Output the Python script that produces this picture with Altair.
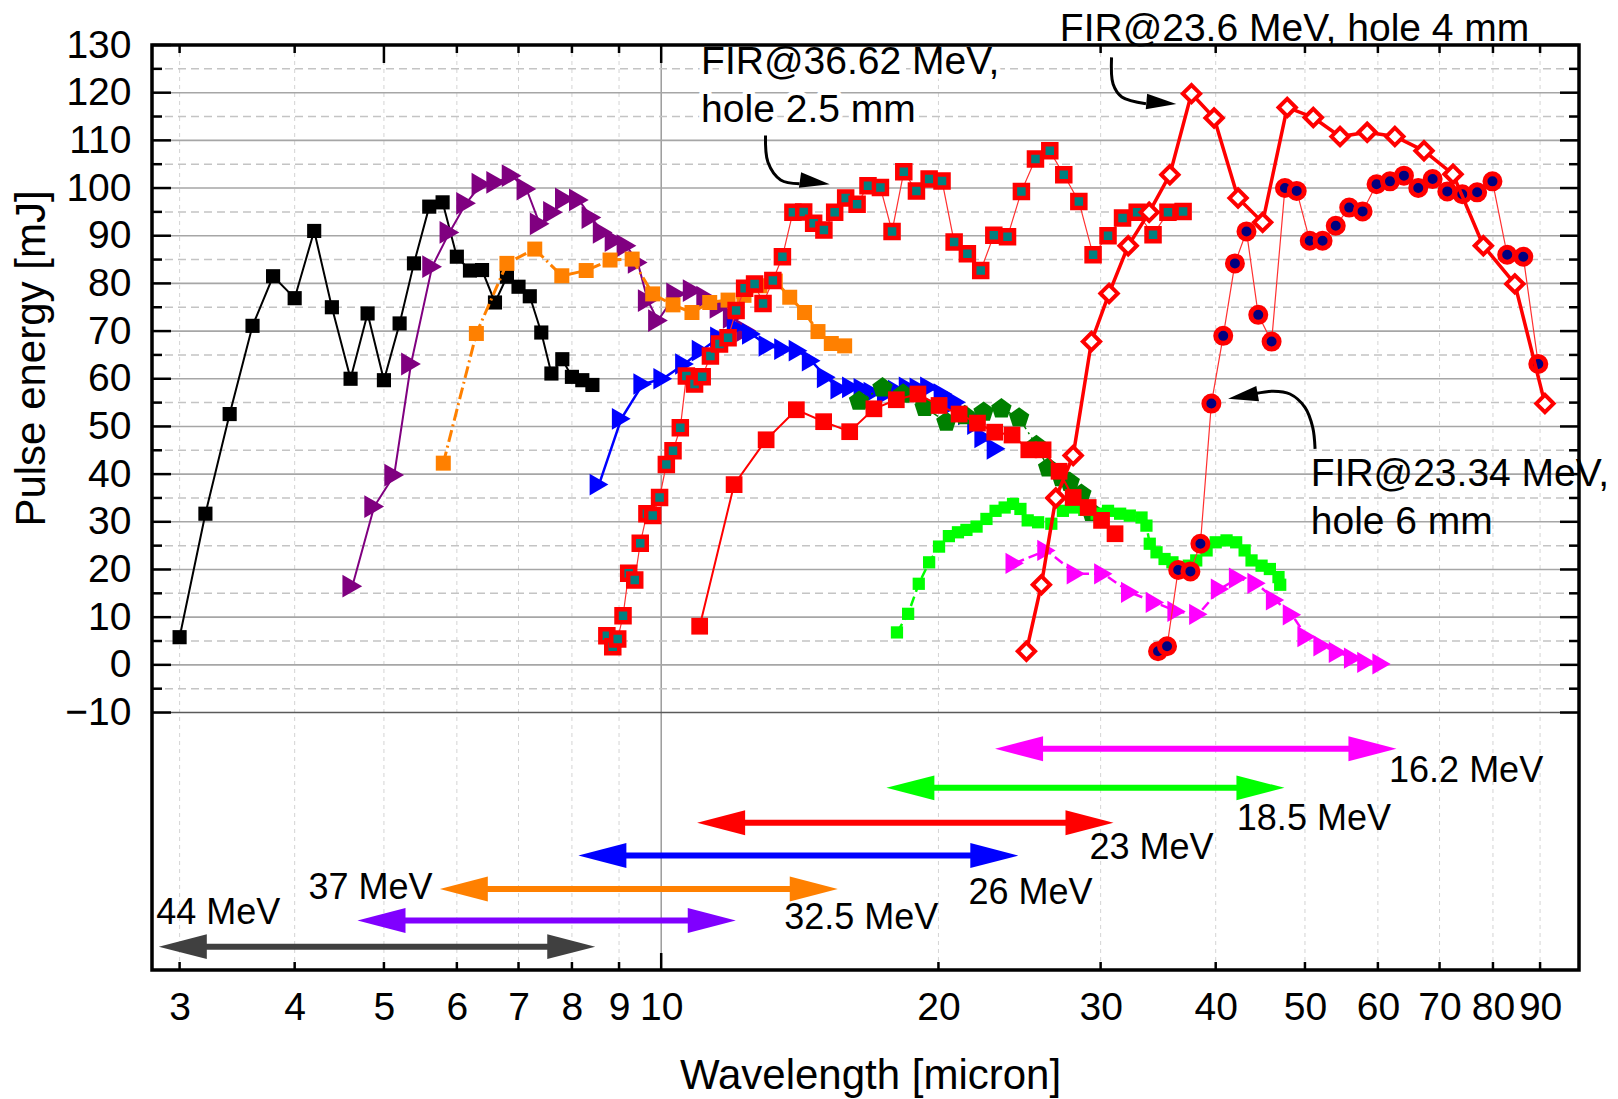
import altair as alt
import pandas as pd

W, H = 1427, 925
FONT = "Liberation Sans"

# ---------------- measured spectra (wavelength in micron, pulse energy in mJ) ----------------
x_44 = [3.0, 3.2, 3.4, 3.6, 3.79, 4.0, 4.2, 4.39, 4.6, 4.8, 5.0, 5.2, 5.39, 5.6, 5.79, 6.0,
        6.2, 6.39, 6.6, 6.8, 7.0, 7.2, 7.41, 7.6, 7.81, 8.0, 8.21, 8.42]
y_44 = [5.8, 31.7, 52.6, 71.1, 81.5, 76.9, 91.0, 75.0, 60.0, 73.7, 59.7, 71.6, 84.2, 96.1, 97.0, 85.6,
        82.7, 82.8, 76.0, 81.4, 79.3, 77.3, 69.7, 61.1, 64.1, 60.4, 59.7, 58.7]

x_37 = [4.62, 4.88, 5.13, 5.35, 5.64, 5.89, 6.14, 6.38, 6.62, 6.88, 7.14, 7.38, 7.63, 7.86, 8.14,
        8.40, 8.64, 8.90, 9.17, 9.43, 9.67, 9.92, 10.38, 10.82, 11.19, 11.57, 11.96, 12.37]
y_37 = [16.5, 33.2, 39.8, 63.1, 83.5, 90.7, 96.8, 100.8, 101.2, 102.6, 99.8, 92.5, 94.9, 97.7, 97.5,
        93.8, 90.7, 89.0, 87.9, 84.4, 76.4, 72.2, 77.8, 78.5, 77.1, 75.0, 72.9, 70.1]

x_325 = [5.80, 6.30, 6.80, 7.29, 7.80, 8.29, 8.80, 9.30, 9.79, 10.30, 10.80, 11.29, 11.82, 12.30,
         12.80, 13.30, 13.79, 14.31, 14.80, 15.30, 15.82]
y_325 = [42.3, 69.5, 84.2, 87.2, 81.6, 82.7, 84.9, 85.1, 77.8, 75.5, 73.9, 76.0, 76.5, 77.5,
         79.5, 80.5, 77.1, 73.9, 69.9, 67.4, 66.9]

x_26 = [8.56, 9.05, 9.55, 10.04, 10.6, 11.05, 11.57, 12.06, 12.53, 13.06, 13.58, 14.08, 14.55, 15.11,
        15.63, 16.09, 16.56, 16.98, 17.56, 18.05, 18.54, 19.05, 19.56, 20.23, 20.92, 21.5, 22.0, 22.4, 23.1]
y_26 = [37.8, 51.6, 58.9, 60.0, 63.1, 65.9, 68.7, 70.8, 69.4, 66.9, 66.2, 65.9, 63.8, 60.3,
        57.9, 58.2, 57.9, 57.1, 56.8, 57.5, 58.2, 58.0, 58.2, 56.8, 55.1, 52.5, 50.5, 47.7, 45.3]

x_fir36 = [8.73, 8.86, 8.97, 9.09, 9.22, 9.36, 9.49, 9.65, 9.79, 9.96, 10.13, 10.30, 10.49, 10.65,
           10.87, 11.08, 11.31, 11.57, 11.82, 12.06, 12.32, 12.63, 12.90, 13.22, 13.54, 13.90, 14.28,
           14.64, 15.02, 15.43, 15.86, 16.32, 16.77, 17.30, 17.81, 18.34, 18.93, 19.54, 20.18, 20.80,
           21.50, 22.23, 22.97, 23.77, 24.61, 25.49, 26.42, 27.36, 28.41, 29.44, 30.56, 31.69, 32.87,
           34.20, 35.50, 36.87]
y_fir36 = [6.1, 3.8, 5.4, 10.3, 19.2, 17.8, 25.5, 31.7, 31.3, 35.1, 42.0, 44.9, 49.7, 60.6,
           58.9, 60.4, 64.8, 67.3, 68.6, 74.3, 79.0, 79.9, 75.8, 80.6, 85.6, 94.9, 95.0,
           92.6, 91.2, 94.9, 97.9, 96.6, 100.5, 100.1, 90.9, 103.4, 99.4, 101.9, 101.5, 88.7,
           86.2, 82.7, 90.1, 89.8, 99.3, 106.1, 107.8, 102.8, 97.2, 86.0, 90.0, 93.7, 94.9,
           90.2, 94.9, 95.1]

x_23 = [11.01, 12.0, 13.0, 14.02, 15.01, 16.02, 17.02, 18.0, 19.0, 20.03, 21.06, 22.05, 23.02,
        24.04, 25.07, 25.98, 27.04, 28.01, 29.08, 30.07, 31.1]
y_23 = [8.1, 37.8, 47.2, 53.5, 51.0, 48.9, 53.7, 55.6, 56.8, 54.4, 52.6, 50.7, 48.8,
        48.2, 45.1, 45.1, 40.6, 35.1, 33.0, 30.3, 27.5]

x_dg = [16.4, 17.39, 18.31, 19.32, 20.4, 21.36, 22.39, 23.41, 24.47, 25.55, 26.31, 27.2, 27.77, 28.59, 29.32]
y_dg = [55.3, 58.1, 56.8, 54.0, 50.9, 52.3, 53.0, 53.7, 51.8, 46.0, 41.3, 39.3, 38.3, 35.8, 32.0]

x_185 = [18.03, 18.54, 19.04, 19.54, 20.03, 20.53, 21.0, 21.45, 22.0, 22.55, 23.07, 23.6, 24.1, 24.55,
         25.0, 25.66, 26.52, 27.3, 28.0, 28.8, 29.7, 30.56, 31.5, 32.27, 33.23, 33.64, 33.92, 34.5,
         35.2, 35.9, 36.6, 37.4, 38.1, 39.1, 40.0, 41.1, 42.1, 43.0, 43.75, 44.86, 45.8, 46.8, 47.0]
y_185 = [6.8, 10.7, 17.0, 21.5, 24.8, 27.0, 27.8, 28.3, 29.0, 30.6, 32.3, 33.0, 33.75, 32.7,
         30.3, 29.9, 29.6, 32.3, 33.0, 32.5, 31.7, 32.3, 31.7, 31.3, 30.9, 29.2, 25.4, 23.6,
         22.2, 21.5, 20.5, 20.8, 21.9, 24.0, 25.7, 26.1, 25.7, 24.0, 21.9, 20.8, 20.1, 18.4, 16.8]

x_162 = [24.2, 26.2, 28.2, 30.2, 32.3, 34.36, 36.27, 38.3, 40.43, 42.3, 44.3, 46.4, 48.4, 50.2,
         52.25, 54.3, 56.4, 58.3, 60.55]
y_162 = [21.3, 24.0, 19.1, 19.1, 15.2, 13.1, 11.2, 10.6, 15.9, 18.2, 17.1, 13.6, 10.5, 5.9,
         4.0, 2.6, 1.4, 0.5, 0.2]

x_fir236 = [24.92, 25.87, 26.82, 28.01, 29.32, 30.64, 32.14, 33.87, 35.67, 37.65, 39.84, 42.3, 44.98,
            47.83, 51.05, 54.58, 58.42, 62.6, 67.33, 72.4, 78.1, 84.5, 91.1]
y_fir236 = [2.85, 16.8, 35.0, 43.9, 67.8, 77.9, 87.9, 94.9, 102.8, 119.8, 114.7, 97.9, 92.8,
            116.9, 114.8, 110.8, 111.7, 110.8, 107.8, 102.9, 87.9, 79.9, 54.8]

x_fir2334 = [34.63, 35.42, 36.42, 37.55, 38.5, 39.57, 40.76, 41.97, 43.2, 44.49, 46.0, 47.56, 48.98,
             50.6, 52.25, 54.0, 55.85, 57.75, 59.8, 61.84, 64.04, 66.37, 68.8, 71.37, 74.1, 76.9,
             79.9, 82.9, 86.3, 89.6]
y_fir2334 = [2.85, 3.9, 19.9, 19.6, 25.4, 54.8, 69.0, 84.2, 90.9, 73.4, 67.8, 100.0, 99.4,
             88.95, 88.95, 92.1, 95.9, 95.1, 100.8, 101.4, 102.6, 100.0, 101.9, 99.3, 98.7, 99.1,
             101.4, 86.0, 85.6, 63.1]

# ---------------- tuning ranges of the beam energies ----------------
range_labels = ["44 MeV", "37 MeV", "32.5 MeV", "26 MeV", "23 MeV", "18.5 MeV", "16.2 MeV"]
range_colors = ["#404040", "#8000FF", "#FF8000", "#0000FF", "#FF0000", "#00FF00", "#FF00FF"]
range_lo = [2.848, 4.68, 5.75, 8.13, 10.94, 17.56, 23.04]
range_hi = [8.48, 12.05, 15.55, 24.42, 30.98, 47.5, 62.85]
range_y = [-59.1, -53.6, -47.0, -40.0, -33.1, -25.8, -17.6]
label_x = [2.83, 4.14, 13.6, 21.56, 29.17, 42.17, 61.7]
label_y = [-54.3, -49.1, -55.3, -50.1, -40.7, -34.6, -24.5]

# ---------------- callouts ----------------
note_text = ["FIR@36.62 MeV,", "hole 2.5 mm", "FIR@23.6 MeV, hole 4 mm", "FIR@23.34 MeV,", "hole 6 mm"]
note_x = [11.05, 11.05, 27.09, 50.73, 50.73]
note_y = [123.9, 113.8, 130.9, 37.6, 27.5]
note_halo = [True, True, False, False, False]

curve_id = ["a"] * 4 + ["b"] * 4 + ["c"] * 6
curve_x = [12.98, 13.06, 13.48, 14.13,
           30.83, 30.95, 31.63, 33.6,
           51.28, 50.98, 50.0, 48.16, 46.18, 44.2]
curve_y = [111.0, 105.4, 101.7, 100.9,
           127.4, 121.8, 119.1, 117.7,
           45.3, 49.8, 54.0, 56.8, 57.4, 56.9]
head_x = [15.24, 36.25, 41.26]
head_y = [100.8, 117.6, 55.8]
head_dir = ["right", "right", "left"]
head_angle = [8, 5, 350]

x_ticks = [3, 4, 5, 6, 7, 8, 9, 10, 20, 30, 40, 50, 60, 70, 80, 90]
y_major = list(range(-10, 131, 10))
y_minor = list(range(-5, 126, 10))

xs = alt.Scale(type="log", domain=[2.8, 99.2], nice=False)
ys = alt.Scale(domain=[-64, 130], nice=False, zero=False)

AX_X = alt.Axis(
    values=x_ticks, format="d", grid=False, ticks=False, domain=False,
    labelFont=FONT, labelFontSize=39, labelColor="black", labelPadding=18,
    labelFlush=False, labelOverlap=False, labelBound=False,
    title="Wavelength [micron]", titleFont=FONT, titleFontSize=42,
    titleFontWeight="normal", titleColor="black", titleX=718, titleY=118,
    titleBaseline="alphabetic", titleAlign="center")
AX_Y = alt.Axis(
    values=y_major, grid=False, ticks=False, domain=False,
    labelFont=FONT, labelFontSize=39, labelColor="black", labelPadding=21,
    labelFlush=False, labelOverlap=False, labelBound=False,
    title="Pulse energy [mJ]", titleFont=FONT, titleFontSize=42,
    titleFontWeight="normal", titleColor="black", titleAngle=270,
    titleX=-121, titleY=313, titleBaseline="middle", titleAlign="center")


def X(f="x"):
    return alt.X(f"{f}:Q", scale=xs, axis=AX_X)


def Y(f="y"):
    return alt.Y(f"{f}:Q", scale=ys, axis=AX_Y)


RIGHT_HEAD = "M0,0 L-2,-0.52 L-2,0.52 Z"
LEFT_HEAD = "M0,0 L2,-0.52 L2,0.52 Z"
PENTAGON = "M0,-1 L0.951,-0.309 L0.588,0.809 L-0.588,0.809 L-0.951,-0.309 Z"

layers = []

# ---- grid ----
vgrid = pd.DataFrame({"x": [v for v in x_ticks if v != 10]})
layers.append(
    alt.Chart(vgrid).mark_rule(color="#d4d4d4", strokeWidth=1, strokeDash=[4, 4]).encode(
        x=X(), y=alt.value(0), y2=alt.value(H))
)
layers.append(
    alt.Chart(pd.DataFrame({"x": [10]})).mark_rule(color="#8c8c8c", strokeWidth=1.3).encode(
        x=X(), y=alt.value(0), y2=alt.value(H))
)
layers.append(
    alt.Chart(pd.DataFrame({"y": y_minor})).mark_rule(color="#c4c4c4", strokeWidth=1.5, strokeDash=[8, 5]).encode(
        y=Y(), x=alt.value(0), x2=alt.value(W))
)
hmaj = pd.DataFrame({"y": y_major, "c": ["#5a5a5a" if v == -10 else "#a6a6a6" for v in y_major]})
layers.append(
    alt.Chart(hmaj).mark_rule(strokeWidth=1.6).encode(
        y=Y(), x=alt.value(0), x2=alt.value(W), color=alt.Color("c:N", scale=None))
)


# ---- spectra ----
def series(xv, yv, color, shape, size, line_w, dash=None, fill=None, stroke_w=0, line_color=None):
    d = pd.DataFrame({"x": xv, "y": yv, "i": list(range(len(xv)))})
    lk = dict(color=line_color or color, strokeWidth=line_w)
    if dash:
        lk["strokeDash"] = dash
    line = alt.Chart(d).mark_line(**lk).encode(x=X(), y=Y(), order="i:Q")
    pk = dict(shape=shape, size=size, filled=True, fill=fill or color, opacity=1)
    if stroke_w:
        pk.update(stroke=color, strokeWidth=stroke_w, strokeOpacity=1)
    else:
        pk.update(strokeWidth=0)
    pts = alt.Chart(d).mark_point(**pk).encode(x=X(), y=Y())
    return [line, pts]


layers += series(x_44, y_44, "#000000", "square", 200, 2)
layers += series(x_37, y_37, "#800080", "triangle-right", 520, 2)
layers += series(x_325, y_325, "#FF8000", "square", 225, 3, dash=[12, 4, 2, 4])
layers += series(x_26, y_26, "#0000FF", "triangle-right", 470, 2.5)
layers += series(x_dg, y_dg, "#008000", PENTAGON, 460, 1.5, dash=[10, 4, 2, 4])
layers += series(x_185, y_185, "#00FF00", "square", 150, 2.5, dash=[10, 5])
layers += series(x_162, y_162, "#FF00FF", "triangle-right", 450, 2.5, dash=[10, 5])
layers += series(x_23, y_23, "#FF0000", "square", 280, 2)
layers += series(x_fir36, y_fir36, "#FF0000", "square", 169, 1.2, fill="#008080", stroke_w=4.5,
                 line_color="#FF3030")
layers += series(x_fir2334, y_fir2334, "#FF0000", "circle", 225, 1.2, fill="#000080", stroke_w=5,
                 line_color="#FF3030")
layers += series(x_fir236, y_fir236, "#FF0000", "diamond", 300, 3.5, fill="#FFFFFF", stroke_w=4)

# ---- tuning-range arrows ----
rng = pd.DataFrame({"lo": range_lo, "hi": range_hi, "y": range_y, "c": range_colors})
layers.append(
    alt.Chart(rng).mark_rule(strokeWidth=6, xOffset=40, x2Offset=-40).encode(
        x=X("lo"), x2="hi:Q", y=Y(), color=alt.Color("c:N", scale=None))
)
layers.append(
    alt.Chart(rng).mark_point(shape=RIGHT_HEAD, size=2304, filled=True, opacity=1, strokeWidth=0).encode(
        x=X("hi"), y=Y(), color=alt.Color("c:N", scale=None))
)
layers.append(
    alt.Chart(rng).mark_point(shape=LEFT_HEAD, size=2304, filled=True, opacity=1, strokeWidth=0).encode(
        x=X("lo"), y=Y(), color=alt.Color("c:N", scale=None))
)
lab = pd.DataFrame({"x": label_x, "y": label_y, "t": range_labels})
layers.append(
    alt.Chart(lab).mark_text(font=FONT, fontSize=36, align="left", baseline="alphabetic", color="black").encode(
        x=X(), y=Y(), text="t:N")
)

# ---- callout text halo (under the frame) ----
notes = pd.DataFrame({"x": note_x, "y": note_y, "t": note_text, "halo": note_halo})
layers.append(
    alt.Chart(notes[notes["halo"]]).mark_text(font=FONT, fontSize=39, align="left", baseline="alphabetic",
                                              color="white", stroke="white", strokeWidth=9,
                                              strokeJoin="round").encode(x=X(), y=Y(), text="t:N")
)


# ---- ticks and frame ----
def tick_rules(df, **enc):
    return alt.Chart(df).mark_rule(color="black", strokeWidth=2.5).encode(**enc)


ymj = pd.DataFrame({"y": y_major})
ymn = pd.DataFrame({"y": y_minor})
layers.append(tick_rules(ymj, y=Y(), x=alt.value(0), x2=alt.value(19)))
layers.append(tick_rules(ymn, y=Y(), x=alt.value(0), x2=alt.value(10)))
layers.append(tick_rules(ymj, y=Y(), x=alt.value(W - 19), x2=alt.value(W)))
layers.append(tick_rules(ymn, y=Y(), x=alt.value(W - 10), x2=alt.value(W)))
xt_short = pd.DataFrame({"x": [v for v in x_ticks if v != 10]})
xt_long = pd.DataFrame({"x": [10]})
layers.append(tick_rules(xt_short, x=X(), y=alt.value(H - 8), y2=alt.value(H)))
layers.append(tick_rules(xt_long, x=X(), y=alt.value(H - 17), y2=alt.value(H)))
layers.append(tick_rules(pd.DataFrame({"x": [v for v in x_ticks if v not in (5, 10)]}),
                         x=X(), y=alt.value(0), y2=alt.value(8)))
layers.append(tick_rules(pd.DataFrame({"x": [5, 10]}), x=X(), y=alt.value(0), y2=alt.value(18)))

layers.append(
    alt.Chart(pd.DataFrame({"k": [0]})).mark_rect(fill=None, fillOpacity=0, stroke="black", strokeWidth=3.5).encode(
        x=alt.value(0), x2=alt.value(W), y=alt.value(0), y2=alt.value(H))
)

# ---- callouts ----
layers.append(
    alt.Chart(notes).mark_text(font=FONT, fontSize=39, align="left", baseline="alphabetic",
                               color="black").encode(x=X(), y=Y(), text="t:N")
)
curves = pd.DataFrame({"id": curve_id, "x": curve_x, "y": curve_y, "i": list(range(len(curve_x)))})
layers.append(
    alt.Chart(curves).mark_line(color="black", strokeWidth=3, interpolate="catmull-rom").encode(
        x=X(), y=Y(), detail="id:N", order="i:Q")
)
heads = pd.DataFrame({"x": head_x, "y": head_y, "d": head_dir, "a": head_angle})
for direction, path in (("right", RIGHT_HEAD), ("left", LEFT_HEAD)):
    layers.append(
        alt.Chart(heads[heads["d"] == direction]).mark_point(
            shape=path, size=900, filled=True, color="black", opacity=1, strokeWidth=0).encode(
            x=X(), y=Y(), angle=alt.Angle("a:Q", scale=None))
    )

chart = alt.layer(*layers).properties(
    width=W, height=H,
    padding={"left": 152, "top": 45, "right": 39, "bottom": 129},
    autosize=alt.AutoSizeParams(type="none"),
    background="white",
).configure_view(stroke=None)

chart.save("out.html", embed_options={"renderer": "svg", "actions": False})
